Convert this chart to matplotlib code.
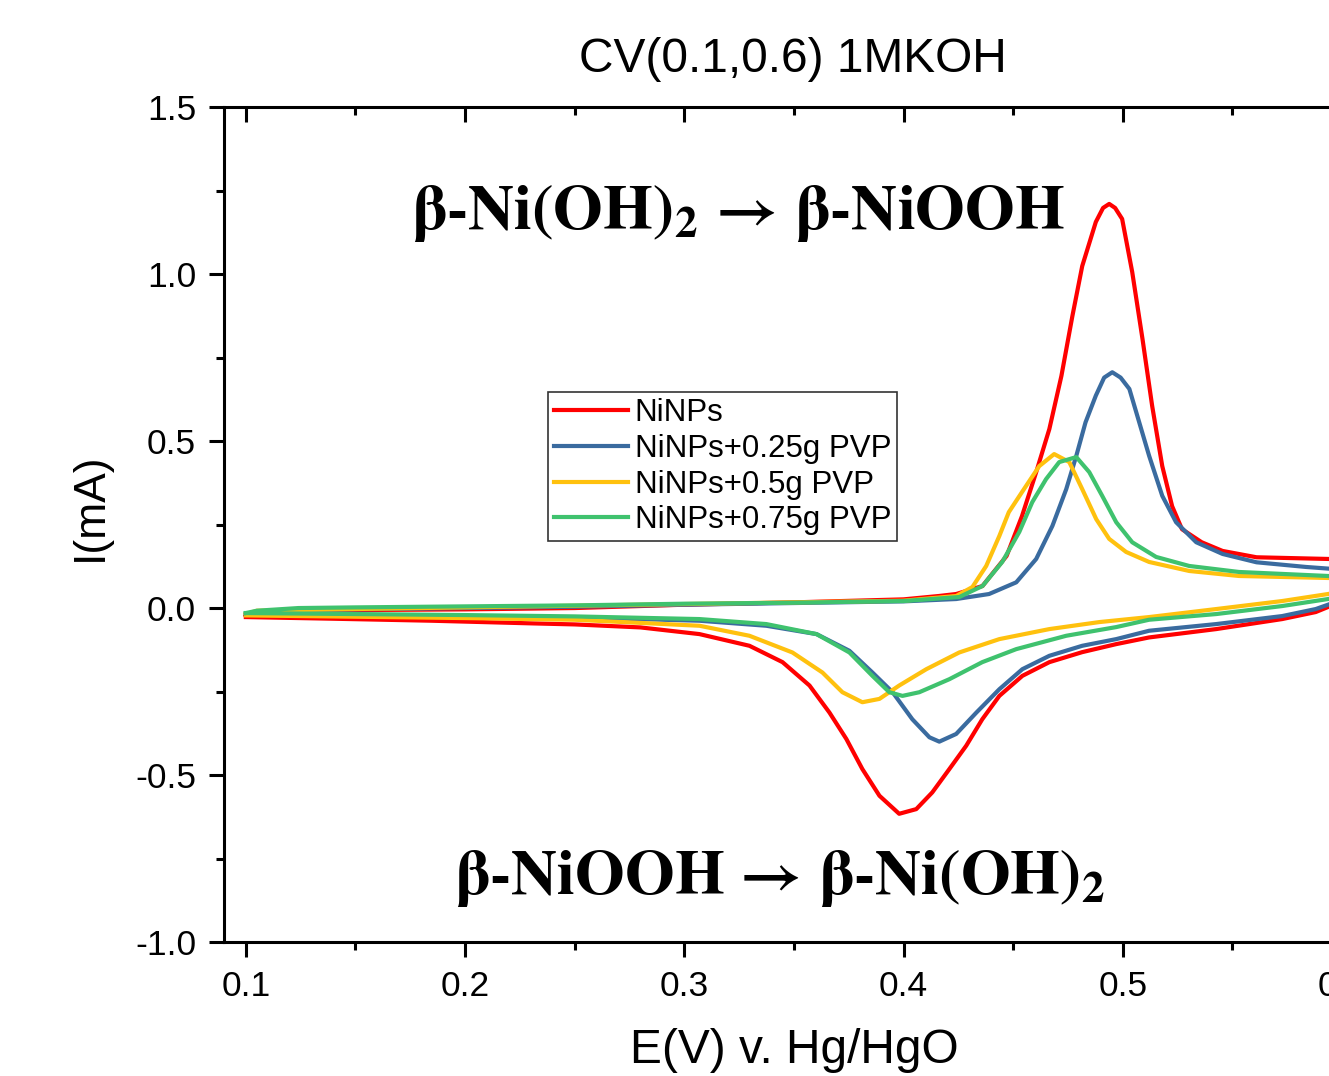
import matplotlib
matplotlib.use('Agg')
import matplotlib.pyplot as plt
from matplotlib.ticker import MultipleLocator

plt.rcParams['font.family'] = ['Liberation Sans', 'DejaVu Sans']
plt.rcParams['axes.unicode_minus'] = False
plt.rcParams['mathtext.fontset'] = 'stix'
plt.rcParams['mathtext.default'] = 'bf'

# ---- data (E in V, I in mA) ----
# NiNPs
red_fwd_x = [0.100, 0.105, 0.120, 0.150, 0.200, 0.250, 0.300, 0.350, 0.400, 0.416, 0.424, 0.436,
             0.447, 0.454, 0.4605, 0.4665, 0.472, 0.477, 0.4815, 0.4877, 0.491, 0.4938, 0.4965,
             0.4997, 0.5043, 0.509, 0.5134, 0.518, 0.5225, 0.527, 0.536, 0.5455, 0.561, 0.5936, 0.600]
red_fwd_y = [-0.025, -0.012, -0.006, -0.006, -0.004, 0.000, 0.010, 0.017, 0.026, 0.036, 0.042, 0.066,
             0.156, 0.275, 0.407, 0.536, 0.695, 0.874, 1.024, 1.156, 1.198, 1.210, 1.198,
             1.165, 1.006, 0.805, 0.605, 0.425, 0.305, 0.236, 0.197, 0.171, 0.152, 0.147, 0.146]
red_rev_x = [0.600, 0.5936, 0.588, 0.5727, 0.5426, 0.512, 0.497, 0.4815, 0.4665, 0.4542, 0.4437,
             0.4359, 0.4286, 0.4209, 0.4131, 0.4058, 0.398, 0.389, 0.3812, 0.3739, 0.3662, 0.3571,
             0.3448, 0.3297, 0.3069, 0.280, 0.250, 0.231, 0.185, 0.140, 0.100]
red_rev_y = [0.020, 0.003, -0.012, -0.033, -0.063, -0.088, -0.108, -0.132, -0.162, -0.203, -0.263,
             -0.333, -0.412, -0.482, -0.552, -0.602, -0.616, -0.562, -0.482, -0.392, -0.313, -0.232,
             -0.162, -0.113, -0.078, -0.058, -0.049, -0.046, -0.038, -0.032, -0.027]

# NiNPs+0.25g PVP
blue_fwd_x = [0.100, 0.105, 0.150, 0.200, 0.250, 0.300, 0.350, 0.400, 0.424, 0.439, 0.4514, 0.4605,
              0.4679, 0.4742, 0.4788, 0.483, 0.4877, 0.4915, 0.4952, 0.499, 0.503, 0.5075, 0.512,
              0.518, 0.5243, 0.5335, 0.5455, 0.561, 0.5836, 0.600]
blue_fwd_y = [-0.020, -0.010, -0.004, 0.000, 0.004, 0.010, 0.015, 0.020, 0.027, 0.042, 0.077, 0.147,
              0.246, 0.356, 0.456, 0.556, 0.636, 0.690, 0.706, 0.690, 0.656, 0.556, 0.456,
              0.336, 0.257, 0.197, 0.162, 0.137, 0.123, 0.115]
blue_rev_x = [0.600, 0.5936, 0.588, 0.5727, 0.5426, 0.512, 0.497, 0.4815, 0.4665, 0.4542, 0.4437,
              0.4332, 0.424, 0.4163, 0.4118, 0.404, 0.395, 0.3858, 0.3753, 0.3603, 0.3374, 0.3069,
              0.250, 0.200, 0.150, 0.100]
blue_rev_y = [0.025, 0.010, -0.003, -0.024, -0.048, -0.068, -0.093, -0.113, -0.143, -0.183, -0.243,
              -0.313, -0.377, -0.400, -0.387, -0.333, -0.252, -0.193, -0.128, -0.078, -0.053, -0.038,
              -0.028, -0.024, -0.020, -0.018]

# NiNPs+0.5g PVP
yel_fwd_x = [0.100, 0.105, 0.150, 0.200, 0.250, 0.300, 0.350, 0.400, 0.424, 0.4314, 0.4377, 0.4437,
             0.448, 0.454, 0.4619, 0.4687, 0.4756, 0.4815, 0.4879, 0.4938, 0.5015, 0.512, 0.5303,
             0.553, 0.5936, 0.600]
yel_fwd_y = [-0.018, -0.008, -0.003, 0.002, 0.007, 0.012, 0.017, 0.022, 0.036, 0.063, 0.126, 0.216,
             0.287, 0.347, 0.425, 0.461, 0.437, 0.356, 0.266, 0.207, 0.168, 0.138, 0.111,
             0.096, 0.090, 0.090]
yel_rev_x = [0.600, 0.5936, 0.5727, 0.5426, 0.512, 0.4893, 0.4665, 0.4437, 0.4254, 0.4104, 0.398,
             0.389, 0.3812, 0.3721, 0.363, 0.3493, 0.3297, 0.3069, 0.250, 0.200, 0.150, 0.100]
yel_rev_y = [0.050, 0.042, 0.021, -0.003, -0.027, -0.042, -0.063, -0.093, -0.133, -0.183, -0.232,
             -0.272, -0.282, -0.252, -0.193, -0.133, -0.083, -0.053, -0.035, -0.030, -0.026, -0.022]

# NiNPs+0.75g PVP
grn_fwd_x = [0.100, 0.105, 0.124, 0.150, 0.200, 0.250, 0.300, 0.350, 0.400, 0.4254, 0.436, 0.445,
             0.4528, 0.4587, 0.465, 0.471, 0.4788, 0.4847, 0.4906, 0.497, 0.5043, 0.5152, 0.5303,
             0.553, 0.5936, 0.600]
grn_fwd_y = [-0.015, -0.008, 0.000, 0.002, 0.005, 0.008, 0.013, 0.016, 0.021, 0.033, 0.066, 0.138,
             0.228, 0.317, 0.386, 0.437, 0.452, 0.407, 0.336, 0.257, 0.197, 0.153, 0.126,
             0.108, 0.096, 0.095]
grn_rev_x = [0.600, 0.5936, 0.5727, 0.5426, 0.512, 0.497, 0.4742, 0.4514, 0.4359, 0.4209, 0.4072,
             0.3995, 0.3935, 0.3858, 0.3753, 0.3603, 0.3374, 0.3069, 0.250, 0.200, 0.150, 0.100]
grn_rev_y = [0.035, 0.027, 0.006, -0.018, -0.035, -0.057, -0.083, -0.123, -0.162, -0.213, -0.252,
             -0.263, -0.252, -0.203, -0.133, -0.078, -0.048, -0.033, -0.025, -0.021, -0.018, -0.015]

labels = ['NiNPs', 'NiNPs+0.25g PVP', 'NiNPs+0.5g PVP', 'NiNPs+0.75g PVP']
colors = ['#FF0000', '#3A6B9F', '#FFC10E', '#3FC26E']

series = [
    (red_fwd_x + red_rev_x, red_fwd_y + red_rev_y),
    (blue_fwd_x + blue_rev_x, blue_fwd_y + blue_rev_y),
    (yel_fwd_x + yel_rev_x, yel_fwd_y + yel_rev_y),
    (grn_fwd_x + grn_rev_x, grn_fwd_y + grn_rev_y),
]

# ---- figure ----
fig = plt.figure(figsize=(13.29, 10.76), dpi=100)
ax = fig.add_axes([0.1685, 0.1245, 0.8578, 0.7760])

for (x, y), c, lab in zip(series, colors, labels):
    ax.plot(x, y, color=c, lw=3.0, label=lab, solid_joinstyle='round')

ax.set_xlim(0.09, 0.61)
ax.set_ylim(-1.0, 1.5)
ax.xaxis.set_major_locator(MultipleLocator(0.1))
ax.xaxis.set_minor_locator(MultipleLocator(0.05))
ax.yaxis.set_major_locator(MultipleLocator(0.5))
ax.yaxis.set_minor_locator(MultipleLocator(0.25))

for s in ax.spines.values():
    s.set_linewidth(2.2)

ax.tick_params(which='both', bottom=True, left=True, direction='out', width=2.2, labelsize=25.5, pad=9)
ax.tick_params(which='major', length=11)
ax.tick_params(which='minor', length=5.5)
ax.tick_params(which='both', top=True, right=True, labeltop=False, labelright=False)
# top/right ticks point inward
for t in ax.xaxis.get_major_ticks() + ax.xaxis.get_minor_ticks():
    t.tick2line.set_marker(3)
for t in ax.yaxis.get_major_ticks() + ax.yaxis.get_minor_ticks():
    t.tick2line.set_marker(0)

ax.set_xlabel('E(V) v. Hg/HgO', fontsize=34.5, labelpad=18)
ax.set_ylabel('I(mA)', fontsize=32)
ax.yaxis.set_label_coords(-0.099, 0.5 + (524 - 506) / 835)
fig.text(793 / 1329, 1 - 60 / 1076, 'CV(0.1,0.6) 1MKOH', fontsize=34.5, ha='center', va='center')

leg = ax.legend(loc='upper left', bbox_to_anchor=(548 / 1329, 1 - 392 / 1076),
                bbox_transform=fig.transFigure, borderaxespad=0, fontsize=22.5,
                frameon=True, fancybox=False, edgecolor='black', handlelength=2.35,
                handletextpad=0.22, labelspacing=0.18, borderpad=0.2)
leg.get_frame().set_linewidth(1.2)

fig.text(738 / 1329, 1 - 213 / 1076, 'β-Ni(OH)$_2$ → β-NiOOH', fontsize=46,
         family='STIXGeneral', fontweight='bold', ha='center', va='center')
fig.text(780 / 1329, 1 - 878 / 1076, 'β-NiOOH → β-Ni(OH)$_2$', fontsize=46,
         family='STIXGeneral', fontweight='bold', ha='center', va='center')

fig.savefig('out.png', dpi=100)
